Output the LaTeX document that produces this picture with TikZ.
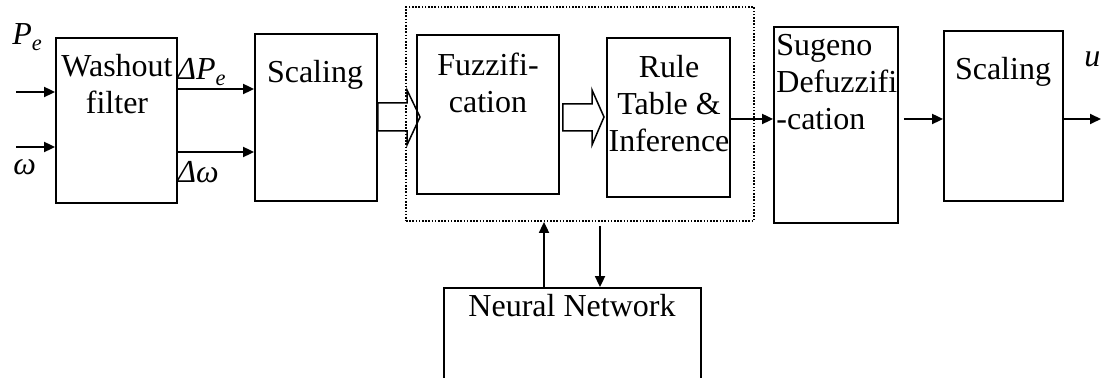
\documentclass[tikz,border=0pt]{standalone}
\usepackage{fontspec}
\setmainfont{Liberation Serif}
\usetikzlibrary{arrows.meta,calc}
\begin{document}
\begin{tikzpicture}[x=0.5pt,y=-0.5pt,
  box/.style={draw,line width=0.9pt,inner sep=0pt},
  lbl/.style={inner sep=0pt,anchor=base,font=\fontsize{16pt}{18.5pt}\selectfont},
  arr/.style={line width=0.9pt,-{Triangle[length=5.5pt,width=5pt]}},
  hollow/.style={draw,line width=0.75pt,line join=miter},
  dotbox/.style={draw,line width=0.9pt,dash pattern=on 0.8pt off 0.8pt,inner sep=0pt}]
\path[use as bounding box,clip] (0,0) rectangle (1101,378);

% blocks of the controller chain
\node[box,minimum width=60.5pt,minimum height=82.5pt] (wash) at (116.5,120.5) {};
\node[box,minimum width=61pt,minimum height=83.5pt] (sc1) at (316,117.5) {};
\node[box,minimum width=71pt,minimum height=79.5pt] (fz) at (488,114.5) {};
\node[box,minimum width=61.5pt,minimum height=79.5pt] (rule) at (668.5,117.5) {};
\node[box,minimum width=62pt,minimum height=98pt] (sug) at (836,125) {};
\node[box,minimum width=59.5pt,minimum height=85pt] (sc2) at (1003.5,116) {};
\node[dotbox,minimum width=174pt,minimum height=107pt] (fis) at (580,114) {};
\node[box,minimum width=128.5pt,minimum height=60pt] (nn) at (572.5,348) {};

% block texts (base anchor = baseline of the last line)
\node[lbl,align=center] (washT) at (117,114) {Washout\\filter};
\node[lbl] (sc1T) at (315,83) {Scaling};
\node[lbl,align=center] (fzT) at (488,113) {Fuzzifi-\\cation};
\node[lbl,align=center] (ruleT) at (669,152) {Rule\\ Table \&\\Inference};
\node[lbl,align=left,anchor=base west] (sugT) at (776,130) {Sugeno\\Defuzzifi\\-cation};
\node[lbl] (sc2T) at (1003,80) {Scaling};
\node[lbl] (nnT) at (572,317) {Neural Network};

% signal labels
\node[lbl,anchor=base west] (lPe) at (12,45) {\textit{P\textsubscript{e}}};
\node[lbl,anchor=base west] (lw) at (13,175) {\textit{ω}};
\node[lbl,anchor=base west] (ldPe) at (177,80) {\textit{ΔP\textsubscript{e}}};
\node[lbl,anchor=base west] (ldw) at (177,183) {\textit{Δω}};
\node[lbl,anchor=base west] (lu) at (1084,67) {\textit{u}};

% free ends of the outer signals
\coordinate (inP) at (16,92);
\coordinate (inW) at (16,147);
\coordinate (outU) at (1101,119);

% connectors
\draw[arr] (inP) -- (inP -| wash.west);
\draw[arr] (inW) -- (inW -| wash.west);
\draw[arr] (wash.east |- 0,89) -- (sc1.west |- 0,89);
\draw[arr] (wash.east |- 0,152) -- (sc1.west |- 0,152);
\draw[arr] (rule.east |- 0,119) -- (sug.west |- 0,119);
\draw[arr] ([xshift=2.5pt]sug.east |- 0,119) -- (sc2.west |- 0,119);
\draw[arr] (sc2.east |- 0,119) -- (outU);
\draw[arr] (nn.north -| 544,0) -- (fis.south -| 544,0);
\draw[arr] ([yshift=-2pt]fis.south -| 600,0) -- (nn.north -| 600,0);

% wide hollow arrows carrying the fuzzy signals
\draw[hollow] (sc1.east |- 0,103) -- (407,103) -- (407,90) -- (420,117)
  -- (407,145) -- (407,131) -- (sc1.east |- 0,131) -- cycle;
\draw[hollow] ([xshift=1.5pt]fz.east |- 0,104) -- (592,104) -- (592,90) -- (604,117)
  -- (592,145) -- (592,131) -- ([xshift=1.5pt]fz.east |- 0,131) -- cycle;
\end{tikzpicture}
\end{document}
